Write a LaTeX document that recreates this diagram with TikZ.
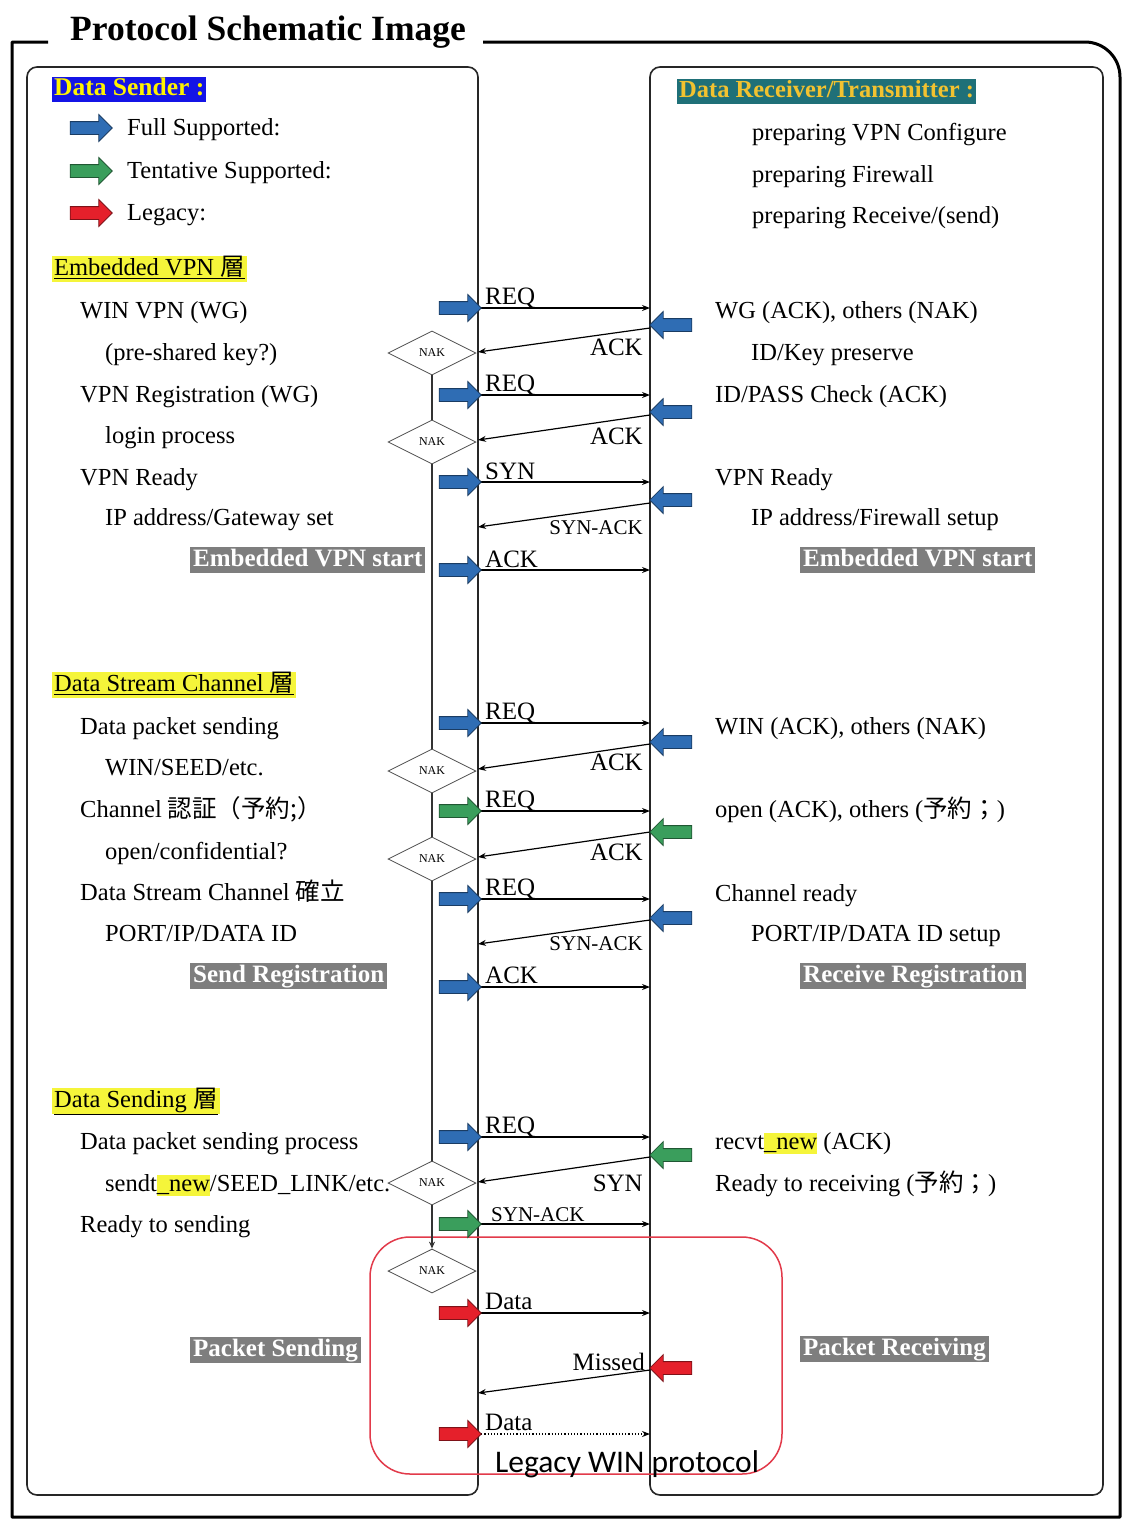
\documentclass[tikz,border=0pt]{standalone}
\usepackage{fontspec}
\setmainfont{Liberation Serif}
\newfontfamily\cjk{Noto Sans CJK JP}
\newfontfamily\carl{Carlito}
\usetikzlibrary{shapes.geometric,shapes.arrows,arrows.meta}
\definecolor{bblue}{HTML}{2F6DB4}
\definecolor{bgreen}{HTML}{3A9E5C}
\definecolor{bred}{HTML}{E5202B}
\definecolor{hly}{HTML}{F5F53A}
\definecolor{tealbg}{HTML}{1F7078}
\definecolor{goldtx}{HTML}{F2C230}
\definecolor{graylab}{HTML}{7E7E7E}
\definecolor{legred}{HTML}{E23A4A}
\definecolor{sendblue}{HTML}{1414E6}
\newcommand{\hlt}[1]{{\setlength{\fboxsep}{0pt}\colorbox{hly}{\vphantom{Ag}#1}}}
\begin{document}
\begin{tikzpicture}[x=1pt,y=-1pt,
  txt/.style={font=\fontsize{24.5}{28}\selectfont, inner sep=0pt, anchor=base west},
  mlab/.style={font=\fontsize{25}{28}\selectfont, inner sep=0pt},
  slab/.style={font=\fontsize{21}{24}\selectfont, inner sep=0pt},
  msg/.style={line width=1.2pt, -{Stealth[length=8pt,width=6pt]}},
  blkR/.style={single arrow, draw=#1!55!black, fill=#1, minimum height=42pt, minimum width=26pt, single arrow head extend=7pt, inner xsep=0pt, inner ysep=6pt, text height=0pt, text depth=0pt, line width=0.8pt},
  blkL/.style={blkR=#1, shape border rotate=180},
  nak/.style={diamond, draw=black!70, line width=0.8pt, minimum width=88pt, minimum height=44pt, inner sep=0pt, font=\fontsize{12}{12}\selectfont},
  glab/.style={fill=graylab, text=white, font=\bfseries\fontsize{25}{27}\selectfont, inner xsep=3pt, inner ysep=2pt, text height=17pt, text depth=5pt, anchor=west},
  sechead/.style={fill=hly, font=\fontsize{24.5}{28}\selectfont, inner xsep=2pt, inner ysep=1pt, text height=18pt, text depth=6pt, anchor=west},
  panel/.style={draw=black!85, line width=1.6pt, rounded corners=10pt},
  vlink/.style={draw=black!80, line width=1.3pt}
]
\useasboundingbox[fill=white] (0,0) rectangle (1126,1519);

% outer frame and title
\draw[line width=3pt, line join=round] (48,42) -- (12,42) -- (12,1517) -- (1120,1517) -- (1120,110) [rounded corners=35pt] -- (1120,42) -- (483,42);
\node[font=\bfseries\fontsize{35.5}{40}\selectfont, inner sep=0pt, anchor=base west] (title) at (70,40) {Protocol Schematic Image};

% panels (their inner edges are the life lines)
\draw[panel] (27,1495) -- (27,67) -- (478,67) -- (478,1495) -- cycle;
\draw[panel] (650,1495) -- (650,67) -- (1103,67) -- (1103,1495) -- cycle;

% legend
\node[fill=sendblue, text=yellow, font=\bfseries\fontsize{25.5}{27}\selectfont, inner xsep=2pt, inner ysep=1.5pt, text height=17pt, text depth=5pt, anchor=west] (snd) at (52,89) {Data Sender :};
\node[blkR=bblue] (lg1) at (88,128) {};
\node[blkR=bgreen] (lg2) at (88,171) {};
\node[blkR=bred] (lg3) at (88,213) {};
\node[txt] (lt1) at (127,135) {Full Supported:};
\node[txt] (lt2) at (127,178) {Tentative Supported:};
\node[txt] (lt3) at (127,220) {Legacy:};

\node[fill=tealbg, text=goldtx, font=\bfseries\fontsize{24.5}{27}\selectfont, inner xsep=2pt, inner ysep=1.5pt, text height=17pt, text depth=5pt, anchor=west] (rcv) at (677,91) {Data Receiver/Transmitter :};
\node[txt] (p1) at (752,140) {preparing VPN Configure};
\node[txt] (p2) at (752,182) {preparing Firewall};
\node[txt] (p3) at (752,223) {preparing Receive/(send)};

% ---------- Section 1 ----------
\node[sechead] (h1) at (52,269) {\underline{Embedded VPN {\cjk 層}}};
\node[txt] (t11) at (80,318) {WIN VPN (WG)};
\node[txt] (t12) at (105,360) {(pre-shared key?)};
\node[txt] (t13) at (80,402) {VPN Registration (WG)};
\node[txt] (t14) at (105,443) {login process};
\node[txt] (t15) at (80,485) {VPN Ready};
\node[txt] (t16) at (105,525) {IP address/Gateway set};
\node[glab] (g1) at (190,560) {Embedded VPN start};

\node[txt] (u11) at (715,318) {WG (ACK), others (NAK)};
\node[txt] (u12) at (751,360) {ID/Key preserve};
\node[txt] (u13) at (715,402) {ID/PASS Check (ACK)};
\node[txt] (u15) at (715,485) {VPN Ready};
\node[txt] (u16) at (751,525) {IP address/Firewall setup};
\node[glab] (g2) at (800,560) {Embedded VPN start};

% ---------- Section 2 ----------
\node[sechead] (h2) at (52,685) {\underline{Data Stream Channel {\cjk 層}}};
\node[txt] (t21) at (80,734) {Data packet sending};
\node[txt] (t22) at (105,775) {WIN/SEED/etc.};
\node[txt] (t23) at (80,817) {Channel {\cjk 認証（予約;）}};
\node[txt] (t24) at (105,859) {open/confidential?};
\node[txt] (t25) at (80,900) {Data Stream Channel {\cjk 確立}};
\node[txt] (t26) at (105,941) {PORT/IP/DATA ID};
\node[glab] (g3) at (190,976) {Send Registration};

\node[txt] (u21) at (715,734) {WIN (ACK), others (NAK)};
\node[txt] (u23) at (715,817) {open (ACK), others ({\cjk 予約；})};
\node[txt] (u25) at (715,901) {Channel ready};
\node[txt] (u26) at (751,941) {PORT/IP/DATA ID setup};
\node[glab] (g4) at (800,976) {Receive Registration};

% ---------- Section 3 ----------
\node[sechead] (h3) at (52,1101) {\underline{Data Sending {\cjk 層}}};
\node[txt] (t31) at (80,1149) {Data packet sending process};
\node[txt] (t32) at (105,1191) {sendt\hlt{\_new}/SEED\_LINK/etc.};
\node[txt] (t33) at (80,1232) {Ready to sending};
\node[glab] (g5) at (190,1350) {Packet Sending};

\node[txt] (u31) at (715,1149) {recvt\hlt{\_new} (ACK)};
\node[txt] (u32) at (715,1191) {Ready to receiving ({\cjk 予約；})};
\node[glab] (g6) at (800,1349) {Packet Receiving};

% legacy box
\draw[draw=legred, line width=1.5pt, rounded corners=40pt] (370,1237) rectangle (782,1474);
\node[font=\carl\fontsize{31.5}{34}\selectfont, inner sep=0pt, anchor=base west] (leg) at (495,1472) {Legacy WIN protocol};

% ---------- NAK diamonds ----------
\node[nak] (D1) at (432,353) {NAK};
\node[nak] (D2) at (432,442) {NAK};
\node[nak] (D3) at (432,771) {NAK};
\node[nak] (D4) at (432,859) {NAK};
\node[nak] (D5) at (432,1183) {NAK};
\node[nak] (D6) at (432,1271) {NAK};
\draw[vlink] (D1.south) -- (D2.north);
\draw[vlink] (D2.south) -- (D3.north);
\draw[vlink] (D3.south) -- (D4.north);
\draw[vlink] (D4.south) -- (D5.north);
\draw[vlink, -{Stealth[length=7pt,width=6pt]}] (D5.south) -- (D6.north);

% ---------- life-line points ----------
\foreach \n/\y in {1/308,2/395,3/482,4/570,5/723,6/811,7/899,8/987,9/1137,10/1224,11/1313,12/1434}{
  \coordinate (SL\n) at (478,\y);
  \coordinate (SR\n) at (650,\y);
}
\foreach \n/\ya/\yb in {1/328/352,2/415/440,3/503/527,4/744/769,5/832/857,6/920/944,7/1157/1182,8/1370/1393}{
  \coordinate (RR\n) at (650,\ya);
  \coordinate (RL\n) at (478,\yb);
}

% sender -> receiver messages
\foreach \n in {1,...,11}{ \draw[msg] (SL\n) -- (SR\n); }
\draw[msg, dotted] (SL12) -- (SR12);
% receiver -> sender messages
\foreach \n in {1,...,8}{ \draw[msg] (RR\n) -- (RL\n); }

% message labels
\node[mlab, anchor=base west] (m1) at (485,304) {REQ};
\node[mlab, anchor=base west] (m2) at (485,391) {REQ};
\node[mlab, anchor=base west] (m3) at (485,479) {SYN};
\node[mlab, anchor=base west] (m4) at (485,567) {ACK};
\node[mlab, anchor=base west] (m5) at (485,719) {REQ};
\node[mlab, anchor=base west] (m6) at (485,807) {REQ};
\node[mlab, anchor=base west] (m7) at (485,895) {REQ};
\node[mlab, anchor=base west] (m8) at (485,983) {ACK};
\node[mlab, anchor=base west] (m9) at (485,1133) {REQ};
\node[slab, anchor=base west] (m10) at (491,1221) {SYN-ACK};
\node[mlab, anchor=base west] (m11) at (485,1309) {Data};
\node[mlab, anchor=base west] (m12) at (485,1430) {Data};

\node[mlab, anchor=base east] (n1) at (643,355) {ACK};
\node[mlab, anchor=base east] (n2) at (643,444) {ACK};
\node[slab, anchor=base east] (n3) at (643,534) {SYN-ACK};
\node[mlab, anchor=base east] (n4) at (643,770) {ACK};
\node[mlab, anchor=base east] (n5) at (643,860) {ACK};
\node[slab, anchor=base east] (n6) at (643,950) {SYN-ACK};
\node[mlab, anchor=base east] (n7) at (643,1191) {SYN};
\node[mlab, anchor=base east] (n8) at (645,1370) {Missed};

% ---------- block arrows (sender side) ----------
\node[blkR=bblue]  (b1)  at (457,308) {};
\node[blkR=bblue]  (b2)  at (457,395) {};
\node[blkR=bblue]  (b3)  at (457,482) {};
\node[blkR=bblue]  (b4)  at (457,570) {};
\node[blkR=bblue]  (b5)  at (457,723) {};
\node[blkR=bgreen] (b6)  at (457,811) {};
\node[blkR=bblue]  (b7)  at (457,899) {};
\node[blkR=bblue]  (b8)  at (457,987) {};
\node[blkR=bblue]  (b9)  at (457,1137) {};
\node[blkR=bgreen] (b10) at (457,1224) {};
\node[blkR=bred]   (b11) at (457,1313) {};
\node[blkR=bred]   (b12) at (457,1434) {};
% ---------- block arrows (receiver side) ----------
\node[blkL=bblue]  (c1) at (674,325) {};
\node[blkL=bblue]  (c2) at (674,412) {};
\node[blkL=bblue]  (c3) at (674,500) {};
\node[blkL=bblue]  (c4) at (674,742) {};
\node[blkL=bgreen] (c5) at (674,832) {};
\node[blkL=bblue]  (c6) at (674,918) {};
\node[blkL=bgreen] (c7) at (674,1155) {};
\node[blkL=bred]   (c8) at (674,1368) {};
\end{tikzpicture}
\end{document}
